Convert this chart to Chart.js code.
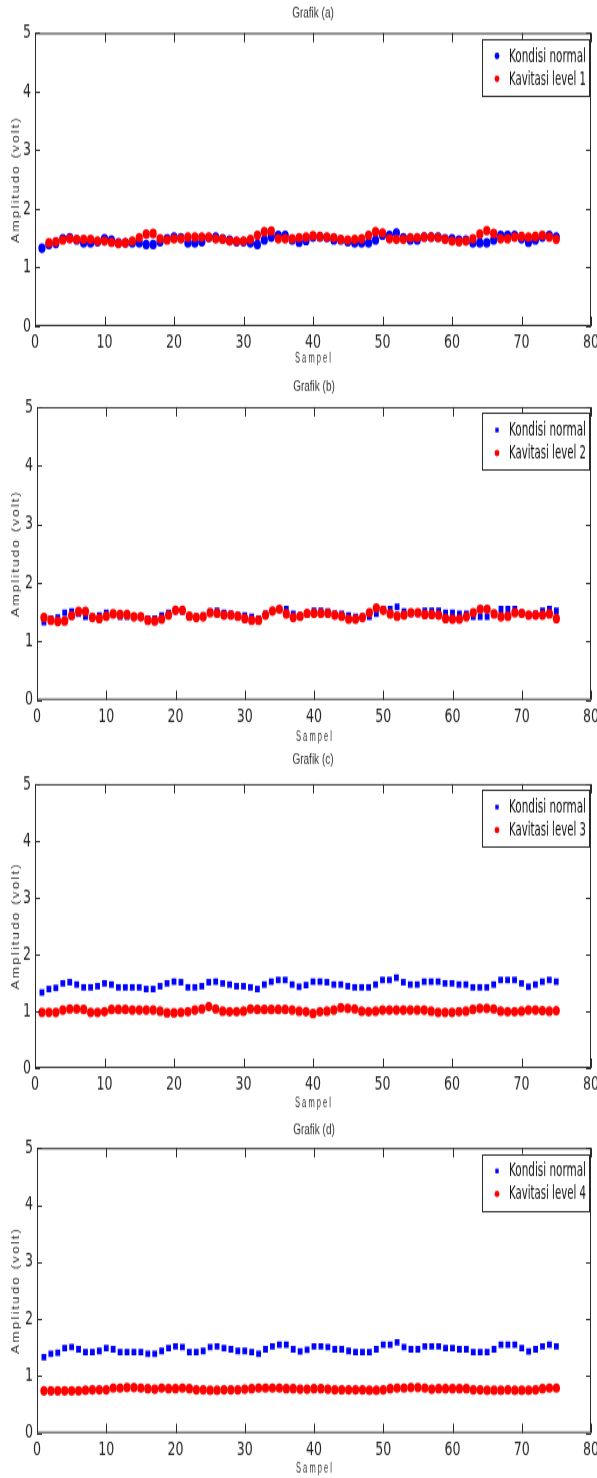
<!DOCTYPE html>
<html>
<head>
<meta charset="utf-8">
<script src="https://cdn.jsdelivr.net/npm/chart.js@4.4.1/dist/chart.umd.min.js"></script>
<style>
html, body { margin: 0; padding: 0; background: #fff; }
body { width: 597px; height: 1478px; position: relative; overflow: hidden; }
canvas { position: absolute; left: 0; }
</style>
</head>
<body>
<canvas id="ca"></canvas>
<canvas id="cb"></canvas>
<canvas id="cc"></canvas>
<canvas id="cd"></canvas>
<script>
// sample number on the x axis
const sampel = [
  1, 2, 3, 4, 5, 6, 7, 8, 9, 10, 11, 12, 13, 14, 15, 16, 17, 18, 19, 20,
  21, 22, 23, 24, 25, 26, 27, 28, 29, 30, 31, 32, 33, 34, 35, 36, 37, 38, 39, 40,
  41, 42, 43, 44, 45, 46, 47, 48, 49, 50, 51, 52, 53, 54, 55, 56, 57, 58, 59, 60,
  61, 62, 63, 64, 65, 66, 67, 68, 69, 70, 71, 72, 73, 74, 75
];

// amplitude (volt)
const kondisiNormal = [
  1.33, 1.39, 1.41, 1.49, 1.51, 1.47, 1.42, 1.42, 1.44, 1.49,
  1.47, 1.42, 1.42, 1.42, 1.42, 1.39, 1.39, 1.44, 1.49, 1.52,
  1.51, 1.42, 1.42, 1.44, 1.51, 1.52, 1.49, 1.47, 1.44, 1.44,
  1.42, 1.39, 1.47, 1.52, 1.55, 1.55, 1.47, 1.43, 1.46, 1.52,
  1.52, 1.51, 1.47, 1.47, 1.44, 1.42, 1.42, 1.42, 1.47, 1.55,
  1.55, 1.59, 1.51, 1.47, 1.47, 1.52, 1.52, 1.52, 1.49, 1.49,
  1.47, 1.47, 1.42, 1.42, 1.42, 1.47, 1.55, 1.55, 1.55, 1.49,
  1.43, 1.47, 1.52, 1.55, 1.52
];

const kavitasi1 = [
  null, 1.42, 1.44, 1.47, 1.49, 1.48, 1.48, 1.48, 1.45, 1.45,
  1.43, 1.41, 1.42, 1.45, 1.51, 1.57, 1.58, 1.49, 1.47, 1.49,
  1.49, 1.52, 1.52, 1.52, 1.52, 1.49, 1.48, 1.45, 1.45, 1.45,
  1.48, 1.55, 1.61, 1.62, 1.49, 1.49, 1.49, 1.51, 1.52, 1.54,
  1.53, 1.52, 1.51, 1.48, 1.47, 1.48, 1.49, 1.55, 1.61, 1.59,
  1.49, 1.48, 1.48, 1.51, 1.51, 1.52, 1.52, 1.51, 1.48, 1.45,
  1.44, 1.45, 1.49, 1.57, 1.63, 1.58, 1.49, 1.49, 1.52, 1.53,
  1.52, 1.53, 1.55, 1.52, 1.48
];

const kavitasi2 = [
  1.41, 1.36, 1.34, 1.35, 1.44, 1.51, 1.51, 1.41, 1.39, 1.43,
  1.47, 1.46, 1.46, 1.42, 1.42, 1.36, 1.35, 1.38, 1.45, 1.53,
  1.53, 1.43, 1.41, 1.42, 1.49, 1.48, 1.45, 1.45, 1.43, 1.39,
  1.36, 1.36, 1.45, 1.52, 1.55, 1.47, 1.41, 1.43, 1.48, 1.48,
  1.48, 1.48, 1.45, 1.43, 1.38, 1.38, 1.41, 1.49, 1.57, 1.53,
  1.47, 1.43, 1.45, 1.49, 1.49, 1.46, 1.46, 1.45, 1.39, 1.38,
  1.38, 1.42, 1.49, 1.55, 1.55, 1.47, 1.42, 1.43, 1.49, 1.48,
  1.45, 1.45, 1.45, 1.47, 1.39
];

const kavitasi3 = [
  0.98, 0.98, 0.98, 1.02, 1.04, 1.04, 1.03, 0.98, 0.98, 0.99,
  1.03, 1.03, 1.03, 1.02, 1.02, 1.02, 1.02, 1.00, 0.97, 0.97,
  0.98, 0.99, 1.02, 1.04, 1.08, 1.04, 1.00, 0.99, 0.99, 1.00,
  1.04, 1.03, 1.03, 1.03, 1.03, 1.03, 1.02, 1.00, 0.99, 0.96,
  0.99, 1.00, 1.02, 1.06, 1.05, 1.04, 1.00, 0.99, 1.00, 1.02,
  1.02, 1.02, 1.02, 1.02, 1.02, 1.02, 1.00, 0.98, 0.98, 0.98,
  0.99, 1.00, 1.03, 1.05, 1.05, 1.04, 1.00, 0.99, 0.99, 1.00,
  1.02, 1.02, 1.01, 1.00, 1.01
];

const kavitasi4 = [
  0.74, 0.74, 0.74, 0.74, 0.74, 0.74, 0.75, 0.76, 0.76, 0.76,
  0.79, 0.79, 0.80, 0.80, 0.79, 0.78, 0.77, 0.79, 0.78, 0.78,
  0.79, 0.78, 0.76, 0.76, 0.75, 0.75, 0.76, 0.76, 0.76, 0.77,
  0.78, 0.79, 0.79, 0.79, 0.79, 0.78, 0.78, 0.77, 0.77, 0.78,
  0.78, 0.77, 0.76, 0.76, 0.76, 0.76, 0.76, 0.75, 0.75, 0.76,
  0.78, 0.79, 0.79, 0.80, 0.80, 0.79, 0.77, 0.78, 0.78, 0.78,
  0.78, 0.78, 0.76, 0.76, 0.75, 0.75, 0.75, 0.76, 0.75, 0.75,
  0.75, 0.76, 0.78, 0.79, 0.79
];

const xTicks = [0, 10, 20, 30, 40, 50, 60, 70, 80];
const yTicks = [0, 1, 2, 3, 4, 5];

// the original figure is stretched vertically, so draw squashed and stretch with css
const S = 1.35;
const AXIS = '#2a2a2a';
const NARROW = "'Liberation Sans Narrow', 'DejaVu Sans Condensed', sans-serif";
const PLAIN = "'Liberation Sans', Arial, sans-serif";

const panels = [
  { id: 'ca', top: 0,    h: 372, aTop: 33,   aBot: 326,  left: 35, titleY: 14,   sampelY: 360,
    title: 'Grafik (a)', red: kavitasi1, redLabel: 'Kavitasi level 1', blueStyle: 'circle' },
  { id: 'cb', top: 372,  h: 373, aTop: 407,  aBot: 700,  left: 37, titleY: 387,  sampelY: 737,
    title: 'Grafik (b)', red: kavitasi2, redLabel: 'Kavitasi level 2', blueStyle: 'rect' },
  { id: 'cc', top: 745,  h: 373, aTop: 784,  aBot: 1068, left: 35, titleY: 760,  sampelY: 1103,
    title: 'Grafik (c)', red: kavitasi3, redLabel: 'Kavitasi level 3', blueStyle: 'rect' },
  { id: 'cd', top: 1118, h: 360, aTop: 1148, aBot: 1433, left: 37, titleY: 1131, sampelY: 1469,
    title: 'Grafik (d)', red: kavitasi4, redLabel: 'Kavitasi level 4', blueStyle: 'rect' }
];

Chart.defaults.font.family = NARROW;
Chart.defaults.color = '#262626';

// box, inward ticks, legend and the texts, matlab style
const framePlugin = {
  id: 'frame',
  afterDatasetsDraw(chart, args, opts) {
    const { ctx, chartArea: a, scales: { x, y } } = chart;
    ctx.save();
    ctx.strokeStyle = AXIS;
    ctx.lineWidth = 1;
    ctx.strokeRect(a.left + 0.5, a.top + 0.5, a.width - 1, a.height - 1);
    ctx.beginPath();
    xTicks.forEach(v => {
      const px = Math.round(x.getPixelForValue(v)) + 0.5;
      ctx.moveTo(px, a.bottom); ctx.lineTo(px, a.bottom - 7);
      ctx.moveTo(px, a.top); ctx.lineTo(px, a.top + 7);
    });
    yTicks.forEach(v => {
      const py = Math.round(y.getPixelForValue(v)) + 0.5;
      ctx.moveTo(a.left, py); ctx.lineTo(a.left + 5, py);
      ctx.moveTo(a.right, py); ctx.lineTo(a.right - 5, py);
    });
    ctx.stroke();

    // legend box
    const bw = 107, bh = 57 / S;
    const bx = a.right - 2 - bw, by = a.top + 6 / S;
    ctx.fillStyle = '#fff';
    ctx.fillRect(bx, by, bw, bh);
    ctx.strokeRect(Math.round(bx) + 0.5, Math.round(by) + 0.5, bw, Math.round(bh));
    ctx.font = '14px ' + NARROW;
    ctx.textBaseline = 'middle';
    ctx.textAlign = 'left';
    chart.data.datasets.slice().sort((p, q) => q.order - p.order).forEach((ds, i) => {
      const ry = by + (i === 0 ? 17 : 40) / S;
      ctx.fillStyle = ds.backgroundColor;
      Chart.helpers.drawPoint(ctx, { pointStyle: ds.pointStyle, radius: 2.4, rotation: 0, borderWidth: 0 }, bx + 15, ry);
      ctx.fillStyle = '#111';
      ctx.fillText(ds.label, bx + 27, ry + 0.5, 77);
    });
    ctx.restore();
  },
  afterDraw(chart, args, opts) {
    const { ctx, chartArea: a } = chart;
    const cx = (a.left + a.right) / 2;
    ctx.save();
    ctx.fillStyle = '#333';
    ctx.textAlign = 'center';
    ctx.textBaseline = 'middle';
    ctx.font = '10px ' + PLAIN;
    ctx.fillText(opts.title, cx, opts.titleY, 42);
    ctx.fillText('S a m p e l', cx, opts.sampelY, 36);
    ctx.restore();

    ctx.save();
    ctx.fillStyle = '#333';
    ctx.textAlign = 'center';
    ctx.textBaseline = 'middle';
    ctx.font = '11px ' + PLAIN;
    ctx.letterSpacing = '1.5px';
    ctx.translate(16, (a.top + a.bottom) / 2);
    ctx.rotate(-Math.PI / 2);
    ctx.fillText('Amplitudo (volt)', 0, 0, 94);
    ctx.restore();
  }
};

panels.forEach(p => {
  const cv = document.getElementById(p.id);
  const logicalH = Math.round(p.h / S);
  cv.width = 597;
  cv.height = logicalH;
  cv.style.top = p.top + 'px';
  cv.style.width = '597px';
  cv.style.height = p.h + 'px';

  const blue = sampel.map((s, i) => ({ x: s, y: kondisiNormal[i] }));
  const red = sampel.map((s, i) => ({ x: s, y: p.red[i] }));

  new Chart(cv, {
    type: 'scatter',
    data: {
      datasets: [
        {
          label: 'Kondisi normal',
          data: blue,
          order: 1,
          backgroundColor: '#0000ff',
          pointStyle: p.blueStyle,
          pointRadius: p.blueStyle === 'rect' ? 3.4 : 3.6,
          pointBorderWidth: 0,
          pointHoverRadius: 3.6
        },
        {
          label: p.redLabel,
          data: red,
          order: 0,
          backgroundColor: '#ff0000',
          pointStyle: 'circle',
          pointRadius: 3.6,
          pointBorderWidth: 0,
          pointHoverRadius: 3.6
        }
      ]
    },
    options: {
      responsive: false,
      animation: false,
      events: [],
      layout: { padding: { top: (p.aTop - p.top) / S, right: 6, left: 0, bottom: 0 } },
      plugins: {
        legend: { display: false },
        tooltip: { enabled: false },
        frame: {
          title: p.title,
          titleY: (p.titleY - p.top) / S,
          sampelY: (p.sampelY - p.top) / S
        }
      },
      scales: {
        x: {
          type: 'linear',
          min: 0,
          max: 80,
          grid: { display: false, drawTicks: false },
          border: { display: false },
          ticks: { stepSize: 10, padding: 4, autoSkip: false, maxRotation: 0, font: { size: 14 }, color: '#262626' },
          afterFit(s) {
            s.height = (p.top + p.h - p.aBot) / S;
            s.paddingLeft = 0;
            s.paddingRight = 0;
          }
        },
        y: {
          min: 0,
          max: 5,
          grid: { display: false, drawTicks: false },
          border: { display: false },
          ticks: { stepSize: 1, padding: 4, autoSkip: false, font: { size: 14 }, color: '#262626' },
          afterFit(s) {
            s.width = p.left;
          }
        }
      }
    },
    plugins: [framePlugin]
  });
});
</script>
</body>
</html>
